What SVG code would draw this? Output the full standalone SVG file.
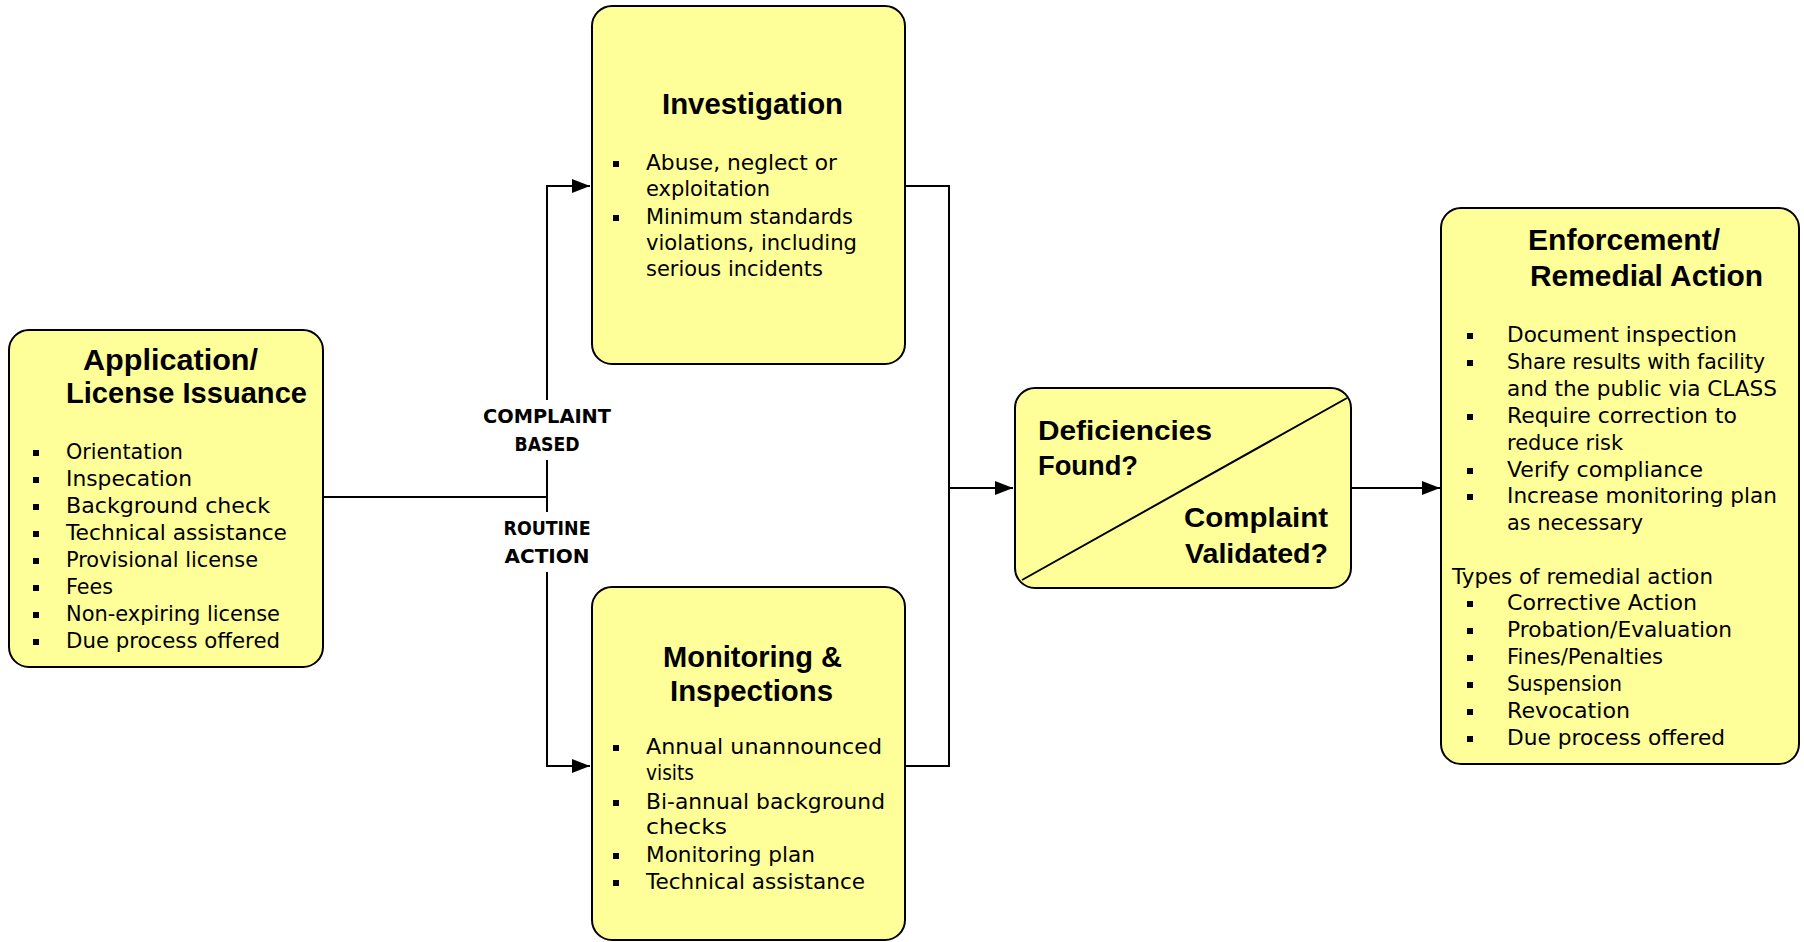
<svg xmlns="http://www.w3.org/2000/svg" width="1804" height="942" viewBox="0 0 1804 942">
<defs>
<marker id="arr" markerUnits="userSpaceOnUse" markerWidth="18" markerHeight="14" refX="18" refY="7" orient="auto">
<path d="M0,0 L18,7 L0,14 z" fill="#000"/>
</marker>
<style>
.box{fill:#FFFF99;stroke:#000;stroke-width:2}
.h{font-family:"Liberation Sans",Arial,sans-serif;font-weight:bold;font-size:30px;fill:#000}
.d{font-family:"Liberation Sans",Arial,sans-serif;font-weight:bold;font-size:28px;fill:#000}
.t{font-family:"DejaVu Sans",sans-serif;font-size:21px;fill:#000}
.l{font-family:"DejaVu Sans",sans-serif;font-weight:bold;font-size:19px;fill:#000}
.b{fill:#000}
.c{fill:none;stroke:#000;stroke-width:2}
</style>
</defs>
<rect width="1804" height="942" fill="#fff"/>

<g id="connectors">
<path class="c" d="M323,497 H547"/>
<path class="c" d="M547,400 V186 H590" marker-end="url(#arr)"/>
<path class="c" d="M547,460 V512"/>
<path class="c" d="M547,572 V766 H590" marker-end="url(#arr)"/>
<path class="c" d="M905,186 H949 V766 H905"/>
<path class="c" d="M949,488 H1013" marker-end="url(#arr)"/>
<path class="c" d="M1351,488 H1440" marker-end="url(#arr)"/>
<text class="l" x="547" y="423" text-anchor="middle" textLength="128" lengthAdjust="spacingAndGlyphs">COMPLAINT</text>
<text class="l" x="547" y="451" text-anchor="middle" textLength="65" lengthAdjust="spacingAndGlyphs">BASED</text>
<text class="l" x="547" y="535" text-anchor="middle" textLength="87" lengthAdjust="spacingAndGlyphs">ROUTINE</text>
<text class="l" x="547" y="563" text-anchor="middle" textLength="85" lengthAdjust="spacingAndGlyphs">ACTION</text>
</g>

<g id="application">
<rect class="box" x="9" y="330" width="314" height="337" rx="20"/>
<text class="h" x="83" y="370" textLength="175" lengthAdjust="spacingAndGlyphs">Application/</text>
<text class="h" x="66" y="403" textLength="241" lengthAdjust="spacingAndGlyphs">License Issuance</text>
<g class="b">
<rect x="33" y="450" width="6" height="6"/><rect x="33" y="477" width="6" height="6"/><rect x="33" y="504" width="6" height="6"/><rect x="33" y="531" width="6" height="6"/><rect x="33" y="558" width="6" height="6"/><rect x="33" y="585" width="6" height="6"/><rect x="33" y="612" width="6" height="6"/><rect x="33" y="639" width="6" height="6"/>
</g>
<text class="t" x="66" y="459" textLength="117" lengthAdjust="spacingAndGlyphs">Orientation</text>
<text class="t" x="66" y="486" textLength="126" lengthAdjust="spacingAndGlyphs">Inspecation</text>
<text class="t" x="66" y="513" textLength="204" lengthAdjust="spacingAndGlyphs">Background check</text>
<text class="t" x="66" y="540" textLength="221" lengthAdjust="spacingAndGlyphs">Technical assistance</text>
<text class="t" x="66" y="567" textLength="192" lengthAdjust="spacingAndGlyphs">Provisional license</text>
<text class="t" x="66" y="594" textLength="47" lengthAdjust="spacingAndGlyphs">Fees</text>
<text class="t" x="66" y="621" textLength="214" lengthAdjust="spacingAndGlyphs">Non-expiring license</text>
<text class="t" x="66" y="648" textLength="214" lengthAdjust="spacingAndGlyphs">Due process offered</text>
</g>

<g id="investigation">
<rect class="box" x="592" y="6" width="313" height="358" rx="20"/>
<text class="h" x="662" y="114" textLength="181" lengthAdjust="spacingAndGlyphs">Investigation</text>
<g class="b"><rect x="613" y="161" width="6" height="6"/><rect x="613" y="215" width="6" height="6"/></g>
<text class="t" x="646" y="170" textLength="191" lengthAdjust="spacingAndGlyphs">Abuse, neglect or</text>
<text class="t" x="646" y="196" textLength="124" lengthAdjust="spacingAndGlyphs">exploitation</text>
<text class="t" x="646" y="224" textLength="207" lengthAdjust="spacingAndGlyphs">Minimum standards</text>
<text class="t" x="646" y="250" textLength="211" lengthAdjust="spacingAndGlyphs">violations, including</text>
<text class="t" x="646" y="276" textLength="177" lengthAdjust="spacingAndGlyphs">serious incidents</text>
</g>

<g id="monitoring">
<rect class="box" x="592" y="587" width="313" height="353" rx="20"/>
<text class="h" x="663" y="667" textLength="179" lengthAdjust="spacingAndGlyphs">Monitoring &amp;</text>
<text class="h" x="670" y="701" textLength="163" lengthAdjust="spacingAndGlyphs">Inspections</text>
<g class="b"><rect x="613" y="745" width="6" height="6"/><rect x="613" y="800" width="6" height="6"/><rect x="613" y="853" width="6" height="6"/><rect x="613" y="880" width="6" height="6"/></g>
<text class="t" x="646" y="754" textLength="236" lengthAdjust="spacingAndGlyphs">Annual unannounced</text>
<text class="t" x="646" y="780" textLength="48" lengthAdjust="spacingAndGlyphs">visits</text>
<text class="t" x="646" y="809" textLength="239" lengthAdjust="spacingAndGlyphs">Bi-annual background</text>
<text class="t" x="646" y="834" textLength="81" lengthAdjust="spacingAndGlyphs">checks</text>
<text class="t" x="646" y="862" textLength="169" lengthAdjust="spacingAndGlyphs">Monitoring plan</text>
<text class="t" x="646" y="889" textLength="219" lengthAdjust="spacingAndGlyphs">Technical assistance</text>
</g>

<g id="decision">
<rect class="box" x="1015" y="388" width="336" height="200" rx="20"/>
<line class="c" x1="1022" y1="580" x2="1347" y2="398"/>
<text class="d" x="1038" y="440" textLength="174" lengthAdjust="spacingAndGlyphs">Deficiencies</text>
<text class="d" x="1038" y="475" textLength="100" lengthAdjust="spacingAndGlyphs">Found?</text>
<text class="d" x="1328" y="527" text-anchor="end" textLength="144" lengthAdjust="spacingAndGlyphs">Complaint</text>
<text class="d" x="1328" y="563" text-anchor="end" textLength="143" lengthAdjust="spacingAndGlyphs">Validated?</text>
</g>

<g id="enforcement">
<rect class="box" x="1441" y="208" width="358" height="556" rx="20"/>
<text class="h" x="1528" y="250" textLength="192" lengthAdjust="spacingAndGlyphs">Enforcement/</text>
<text class="h" x="1530" y="286" textLength="233" lengthAdjust="spacingAndGlyphs">Remedial Action</text>
<g class="b">
<rect x="1467" y="333" width="6" height="6"/><rect x="1467" y="360" width="6" height="6"/><rect x="1467" y="414" width="6" height="6"/><rect x="1467" y="468" width="6" height="6"/><rect x="1467" y="494" width="6" height="6"/>
<rect x="1467" y="601" width="6" height="6"/><rect x="1467" y="628" width="6" height="6"/><rect x="1467" y="655" width="6" height="6"/><rect x="1467" y="682" width="6" height="6"/><rect x="1467" y="709" width="6" height="6"/><rect x="1467" y="736" width="6" height="6"/>
</g>
<text class="t" x="1507" y="342" textLength="230" lengthAdjust="spacingAndGlyphs">Document inspection</text>
<text class="t" x="1507" y="369" textLength="258" lengthAdjust="spacingAndGlyphs">Share results with facility</text>
<text class="t" x="1507" y="396" textLength="270" lengthAdjust="spacingAndGlyphs">and the public via CLASS</text>
<text class="t" x="1507" y="423" textLength="230" lengthAdjust="spacingAndGlyphs">Require correction to</text>
<text class="t" x="1507" y="450" textLength="116" lengthAdjust="spacingAndGlyphs">reduce risk</text>
<text class="t" x="1507" y="477" textLength="196" lengthAdjust="spacingAndGlyphs">Verify compliance</text>
<text class="t" x="1507" y="503" textLength="270" lengthAdjust="spacingAndGlyphs">Increase monitoring plan</text>
<text class="t" x="1507" y="530" textLength="136" lengthAdjust="spacingAndGlyphs">as necessary</text>
<text class="t" x="1452" y="584" textLength="261" lengthAdjust="spacingAndGlyphs">Types of remedial action</text>
<text class="t" x="1507" y="610" textLength="190" lengthAdjust="spacingAndGlyphs">Corrective Action</text>
<text class="t" x="1507" y="637" textLength="225" lengthAdjust="spacingAndGlyphs">Probation/Evaluation</text>
<text class="t" x="1507" y="664" textLength="156" lengthAdjust="spacingAndGlyphs">Fines/Penalties</text>
<text class="t" x="1507" y="691" textLength="115" lengthAdjust="spacingAndGlyphs">Suspension</text>
<text class="t" x="1507" y="718" textLength="123" lengthAdjust="spacingAndGlyphs">Revocation</text>
<text class="t" x="1507" y="745" textLength="218" lengthAdjust="spacingAndGlyphs">Due process offered</text>
</g>
</svg>
